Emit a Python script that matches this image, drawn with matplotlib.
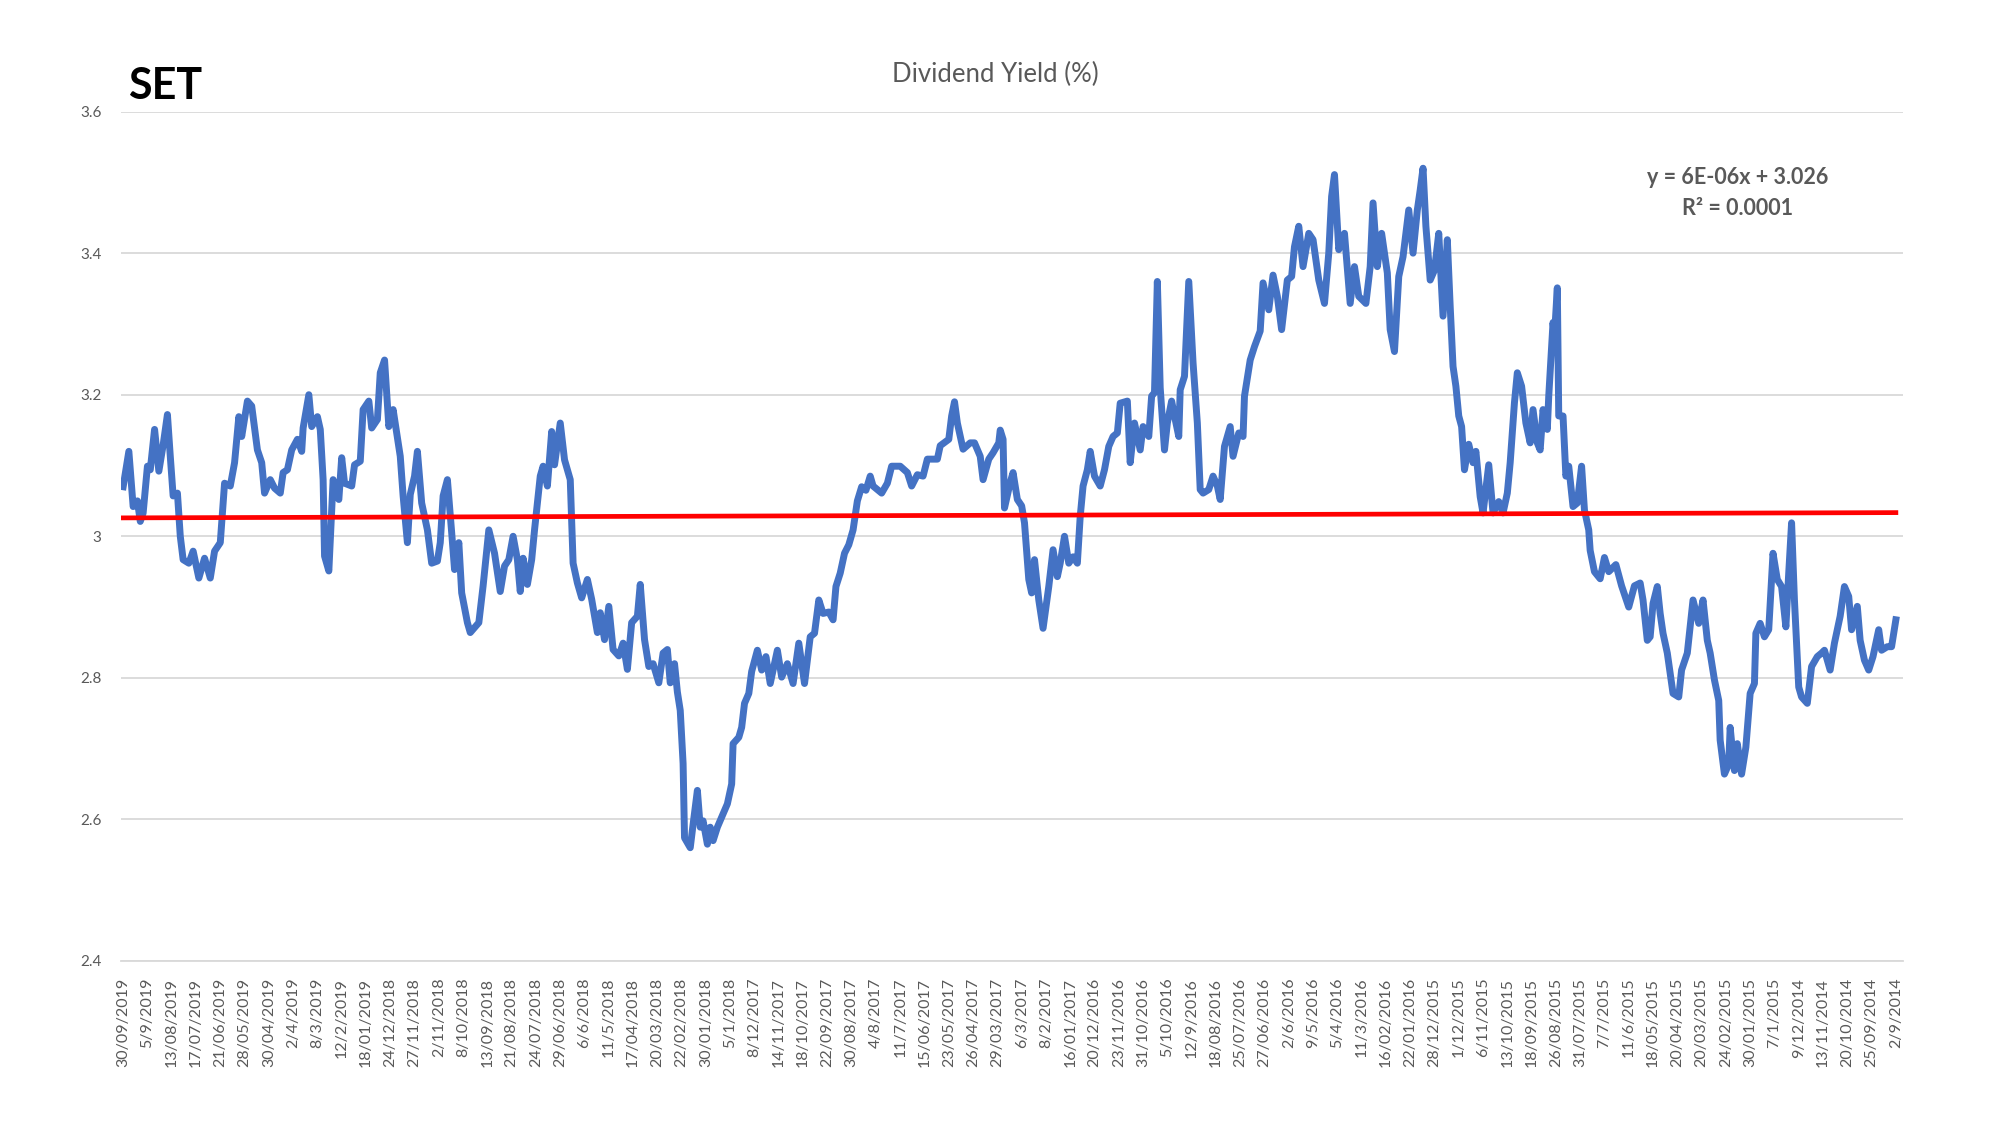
import numpy as np
import matplotlib
matplotlib.use('Agg')
from matplotlib import pyplot as plt

# SET dividend yield, trading days counted back from 30/09/2019

n_days = 1242
day = [0, 4, 7, 10, 12, 14, 17, 19, 22, 25, 28, 31, 33, 35, 38, 40, 42, 46, 49, 53,
       57, 61, 64, 68, 71, 75, 78, 81, 83, 87, 90, 94, 97, 99, 103, 106, 110, 112, 115, 118,
       122, 125, 126, 130, 132, 136, 138, 140, 141, 144, 147, 151, 153, 155, 160, 162, 166, 168, 172, 174,
       178, 180, 183, 186, 189, 194, 196, 199, 201, 204, 206, 209, 213, 216, 220, 222, 224, 227, 230, 232,
       235, 237, 241, 243, 249, 252, 256, 260, 264, 267, 270, 273, 276, 278, 280, 283, 286, 288, 292, 294,
       297, 300, 302, 306, 309, 313, 315, 318, 321, 325, 328, 332, 334, 337, 340, 343, 347, 350, 353, 356,
       360, 362, 365, 368, 371, 375, 378, 381, 383, 386, 388, 390, 392, 393, 397, 399, 402, 404, 406, 409,
       411, 413, 416, 419, 423, 426, 427, 431, 433, 435, 438, 440, 444, 447, 450, 453, 458, 461, 465, 469,
       473, 477, 481, 484, 487, 490, 494, 497, 499, 502, 505, 508, 511, 514, 517, 520, 523, 525, 531, 535,
       538, 544, 549, 552, 556, 560, 563, 570, 572, 578, 580, 582, 584, 588, 593, 596, 600, 602, 606, 609,
       613, 614, 616, 617, 621, 623, 626, 629, 631, 634, 636, 638, 641, 644, 648, 651, 654, 656, 659, 662,
       665, 668, 670, 672, 675, 677, 680, 684, 687, 690, 693, 696, 698, 703, 705, 708, 712, 714, 718, 720,
       722, 724, 726, 729, 731, 734, 736, 739, 740, 743, 746, 749, 752, 754, 756, 760, 763, 766, 768, 771,
       775, 777, 781, 784, 785, 789, 792, 796, 798, 802, 805, 808, 811, 815, 818, 820, 823, 826, 830, 833,
       837, 841, 844, 846, 848, 851, 855, 859, 862, 865, 870, 873, 875, 878, 881, 885, 887, 890, 893, 896,
       900, 903, 906, 908, 910, 912, 915, 918, 921, 924, 927, 929, 931, 933, 935, 937, 939, 942, 945, 947,
       950, 952, 956, 959, 963, 966, 969, 971, 974, 976, 979, 982, 985, 987, 990, 992, 994, 997, 998, 1001,
       1002, 1004, 1005, 1008, 1010, 1012, 1015, 1018, 1021, 1023, 1026, 1027, 1030, 1034, 1037, 1040, 1045, 1049, 1054, 1058,
       1062, 1064, 1067, 1069, 1071, 1074, 1076, 1078, 1081, 1083, 1085, 1089, 1091, 1095, 1097, 1099, 1103, 1106, 1109, 1111,
       1114, 1117, 1118, 1121, 1124, 1125, 1128, 1130, 1133, 1136, 1139, 1142, 1143, 1146, 1149, 1152, 1155, 1158, 1161, 1164,
       1166, 1168, 1170, 1173, 1175, 1179, 1182, 1186, 1189, 1191, 1195, 1198, 1202, 1205, 1208, 1210, 1214, 1216, 1219, 1222,
       1225, 1229, 1231, 1235, 1238, 1241]
div_yield = [3.07, 3.12, 3.042, 3.05, 3.021, 3.033, 3.099, 3.094, 3.151, 3.092, 3.129, 3.172, 3.113, 3.057, 3.061, 3.0, 2.967, 2.962, 2.979, 2.941,
             2.969, 2.941, 2.979, 2.991, 3.075, 3.071, 3.104, 3.169, 3.141, 3.191, 3.184, 3.122, 3.104, 3.061, 3.08, 3.068, 3.061, 3.09, 3.094, 3.122,
             3.137, 3.12, 3.153, 3.2, 3.155, 3.169, 3.151, 3.08, 2.972, 2.951, 3.08, 3.052, 3.111, 3.075, 3.071, 3.101, 3.106, 3.179, 3.191, 3.153,
             3.165, 3.231, 3.249, 3.155, 3.179, 3.113, 3.057, 2.991, 3.059, 3.085, 3.12, 3.047, 3.009, 2.962, 2.965, 2.991, 3.057, 3.08, 3.005, 2.953,
             2.991, 2.92, 2.878, 2.864, 2.878, 2.93, 3.009, 2.976, 2.922, 2.958, 2.967, 3.0, 2.967, 2.922, 2.969, 2.932, 2.967, 3.009, 3.085, 3.099,
             3.071, 3.148, 3.101, 3.16, 3.108, 3.08, 2.962, 2.934, 2.913, 2.939, 2.911, 2.864, 2.892, 2.854, 2.901, 2.84, 2.831, 2.849, 2.812, 2.878,
             2.887, 2.932, 2.854, 2.816, 2.82, 2.793, 2.835, 2.84, 2.793, 2.82, 2.78, 2.754, 2.679, 2.574, 2.56, 2.593, 2.641, 2.589, 2.598, 2.565,
             2.589, 2.57, 2.589, 2.603, 2.622, 2.65, 2.707, 2.716, 2.73, 2.764, 2.778, 2.809, 2.839, 2.811, 2.83, 2.792, 2.839, 2.801, 2.82, 2.792,
             2.849, 2.792, 2.858, 2.863, 2.91, 2.891, 2.893, 2.882, 2.929, 2.948, 2.976, 2.988, 3.009, 3.05, 3.07, 3.065, 3.085, 3.071, 3.061, 3.075,
             3.099, 3.099, 3.09, 3.071, 3.087, 3.085, 3.109, 3.109, 3.128, 3.137, 3.17, 3.19, 3.16, 3.123, 3.132, 3.132, 3.113, 3.08, 3.109, 3.118,
             3.132, 3.15, 3.137, 3.04, 3.076, 3.09, 3.052, 3.043, 3.019, 2.939, 2.92, 2.967, 2.91, 2.87, 2.929, 2.981, 2.943, 2.962, 3.0, 2.962,
             2.971, 2.962, 3.028, 3.071, 3.094, 3.12, 3.085, 3.071, 3.094, 3.127, 3.141, 3.146, 3.188, 3.191, 3.104, 3.16, 3.122, 3.155, 3.141, 3.198,
             3.203, 3.36, 3.21, 3.122, 3.16, 3.191, 3.17, 3.141, 3.207, 3.226, 3.36, 3.245, 3.16, 3.066, 3.061, 3.066, 3.085, 3.071, 3.052, 3.127,
             3.155, 3.113, 3.146, 3.141, 3.198, 3.249, 3.268, 3.29, 3.358, 3.32, 3.369, 3.339, 3.292, 3.362, 3.367, 3.409, 3.438, 3.381, 3.428, 3.419,
             3.362, 3.329, 3.4, 3.48, 3.511, 3.405, 3.428, 3.329, 3.381, 3.339, 3.329, 3.381, 3.471, 3.381, 3.428, 3.372, 3.292, 3.261, 3.367, 3.395,
             3.461, 3.4, 3.461, 3.489, 3.52, 3.438, 3.362, 3.376, 3.428, 3.311, 3.419, 3.325, 3.24, 3.212, 3.17, 3.155, 3.094, 3.13, 3.104, 3.12,
             3.056, 3.033, 3.101, 3.033, 3.049, 3.033, 3.061, 3.104, 3.189, 3.231, 3.212, 3.16, 3.132, 3.179, 3.132, 3.122, 3.179, 3.151, 3.198, 3.302,
             3.283, 3.351, 3.17, 3.17, 3.085, 3.099, 3.042, 3.047, 3.099, 3.037, 3.009, 2.98, 2.95, 2.94, 2.97, 2.95, 2.96, 2.93, 2.90, 2.93,
             2.934, 2.91, 2.853, 2.858, 2.905, 2.929, 2.891, 2.863, 2.835, 2.806, 2.778, 2.773, 2.811, 2.835, 2.872, 2.91, 2.877, 2.91, 2.853, 2.835,
             2.797, 2.768, 2.712, 2.664, 2.678, 2.73, 2.669, 2.707, 2.664, 2.702, 2.778, 2.792, 2.863, 2.877, 2.858, 2.868, 2.976, 2.939, 2.929, 2.872,
             2.948, 3.019, 2.91, 2.787, 2.773, 2.764, 2.816, 2.83, 2.835, 2.839, 2.811, 2.849, 2.887, 2.929, 2.915, 2.868, 2.901, 2.853, 2.825, 2.811,
             2.83, 2.868, 2.839, 2.844, 2.844, 2.882]

# linear trendline as printed on the chart (x = 1..n)
trend_slope = 6e-06
trend_intercept = 3.026

date_labels = ['30/09/2019', '5/9/2019', '13/08/2019', '17/07/2019', '21/06/2019', '28/05/2019', '30/04/2019',
               '2/4/2019', '8/3/2019', '12/2/2019', '18/01/2019', '24/12/2018', '27/11/2018', '2/11/2018',
               '8/10/2018', '13/09/2018', '21/08/2018', '24/07/2018', '29/06/2018', '6/6/2018', '11/5/2018',
               '17/04/2018', '20/03/2018', '22/02/2018', '30/01/2018', '5/1/2018', '8/12/2017', '14/11/2017',
               '18/10/2017', '22/09/2017', '30/08/2017', '4/8/2017', '11/7/2017', '15/06/2017', '23/05/2017',
               '26/04/2017', '29/03/2017', '6/3/2017', '8/2/2017', '16/01/2017', '20/12/2016', '23/11/2016',
               '31/10/2016', '5/10/2016', '12/9/2016', '18/08/2016', '25/07/2016', '27/06/2016', '2/6/2016',
               '9/5/2016', '5/4/2016', '11/3/2016', '16/02/2016', '22/01/2016', '28/12/2015', '1/12/2015',
               '6/11/2015', '13/10/2015', '18/09/2015', '26/08/2015', '31/07/2015', '7/7/2015', '11/6/2015',
               '18/05/2015', '20/04/2015', '20/03/2015', '24/02/2015', '30/01/2015', '7/1/2015', '9/12/2014',
               '13/11/2014', '20/10/2014', '25/09/2014', '2/9/2014']
label_every = 17

y_ticks = [2.4, 2.6, 2.8, 3.0, 3.2, 3.4, 3.6]
y_tick_labels = ['2.4', '2.6', '2.8', '3', '3.2', '3.4', '3.6']

plt.rcParams['font.family'] = ['Lato', 'DejaVu Sans']
grey = '#595959'

fig = plt.figure(figsize=(20, 11.25), dpi=100)
ax = fig.add_axes([0.0605, 0.1458, 0.891, 0.755])

ax.plot(day, div_yield, color='#4472C4', lw=5, solid_joinstyle='round', zorder=2)

xt = np.arange(n_days)
ax.plot(xt, trend_slope * (xt + 1) + trend_intercept, color='#FF0000', lw=3.4, zorder=3)

ax.set_xlim(-1.5, n_days + 4)
ax.set_ylim(2.4, 3.6)
ax.set_yticks(y_ticks)
ax.set_yticklabels(y_tick_labels, color=grey, fontsize=11)
ax.set_xticks(np.arange(len(date_labels)) * label_every)
ax.set_xticklabels(date_labels, rotation=90, color=grey, fontsize=11.5)
ax.tick_params(length=0, pad=12, axis='x')
ax.tick_params(length=0, pad=14, axis='y')
ax.grid(axis='y', color='#D9D9D9', lw=1.3, zorder=0)
for s in ['top', 'right', 'left']:
    ax.spines[s].set_visible(False)
ax.spines['bottom'].set_color('#D9D9D9')
ax.spines['bottom'].set_linewidth(1.3)

fig.text(0.4975, 0.934, 'Dividend Yield (%)', ha='center', va='center', color=grey, fontsize=18.5)
fig.text(0.064, 0.912, 'SET', ha='left', va='baseline', color='black', fontsize=31, fontweight='bold')
fig.text(0.869, 0.8364, 'y = 6E-06x + 3.026', ha='center', va='baseline', color=grey,
         fontsize=15.5, fontweight='bold')
fig.text(0.869, 0.8089, 'R² = 0.0001', ha='center', va='baseline', color=grey,
         fontsize=15.5, fontweight='bold')

plt.savefig('out.png', dpi=100)
